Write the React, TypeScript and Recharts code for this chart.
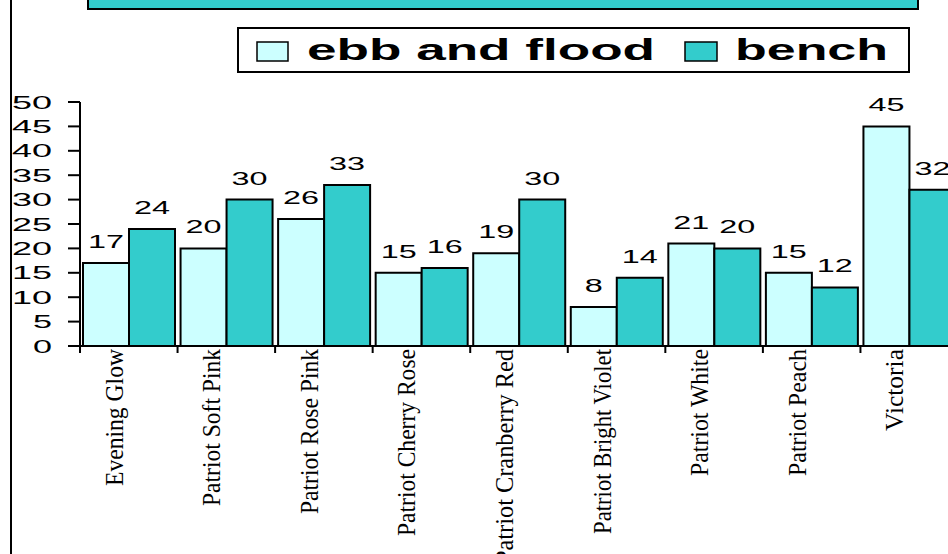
import React from "react";
import { BarChart, Bar, XAxis, YAxis, LabelList } from "recharts";

const categories = [
  "Evening Glow",
  "Patriot Soft Pink",
  "Patriot Rose Pink",
  "Patriot Cherry Rose",
  "Patriot Cranberry Red",
  "Patriot Bright Violet",
  "Patriot White",
  "Patriot Peach",
  "Victoria",
];
const ebbAndFlood = [17, 20, 26, 15, 19, 8, 21, 15, 45];
const bench = [24, 30, 33, 16, 30, 14, 20, 12, 32];
const yTicks = [0, 5, 10, 15, 20, 25, 30, 35, 40, 45, 50];
const seriesNames = ["ebb and flood", "bench"];

// visual lengths of the compressed category labels (style only)
const labelLengths: Record<string, number> = {
  "Evening Glow": 137,
  "Patriot Soft Pink": 157,
  "Patriot Rose Pink": 165,
  "Patriot Cherry Rose": 187,
  "Patriot Cranberry Red": 215,
  "Patriot Bright Violet": 185,
  "Patriot White": 127,
  "Patriot Peach": 127,
  Victoria: 82,
};

const data = categories.map((name, i) => ({
  name,
  ebb: ebbAndFlood[i],
  bench: bench[i],
}));

const CHART_W = 980;
const CHART_H = 554;
const MARGIN = { top: 102, right: 22, left: 0, bottom: 0 };
const Y_W = 80;
const BAND = (CHART_W - MARGIN.left - MARGIN.right - Y_W) / categories.length;

const LIGHT = "#CCFFFF";
const DARK = "#33CCCC";

const XTick = (props: any) => {
  const { x, y, payload } = props;
  const name = payload.value as string;
  return (
    <g>
      <line x1={x - BAND / 2} y1={y} x2={x - BAND / 2} y2={y + 7} stroke="#000" strokeWidth={2} />
      <text
        x={0}
        y={0}
        transform={`translate(${x - 6},${y + 3}) rotate(-90)`}
        textAnchor="end"
        fontFamily="'Liberation Serif', 'Times New Roman', serif"
        fontSize={25}
        fill="#000"
        textLength={labelLengths[name] || 120}
        lengthAdjust="spacingAndGlyphs"
      >
        {name}
      </text>
    </g>
  );
};

const YTick = (props: any) => {
  const { x, y, payload } = props;
  const s = String(payload.value);
  return (
    <text
      x={x - 14}
      y={y + 6.5}
      textAnchor="end"
      fontFamily="'Liberation Sans', Arial, sans-serif"
      fontSize={18}
      fill="#000"
      textLength={s.length > 1 ? 40 : 19}
      lengthAdjust="spacingAndGlyphs"
    >
      {s}
    </text>
  );
};

const BarLabel = (props: any) => {
  const { x, y, width, value } = props;
  const s = String(value);
  return (
    <text
      x={x + width / 2}
      y={y - 15}
      textAnchor="middle"
      fontFamily="'Liberation Sans', Arial, sans-serif"
      fontSize={18}
      fill="#000"
      textLength={s.length > 1 ? 36 : 18}
      lengthAdjust="spacingAndGlyphs"
    >
      {s}
    </text>
  );
};

export default function App() {
  return (
    <div
      style={{
        position: "absolute",
        left: 0,
        top: 0,
        width: 948,
        height: 554,
        overflow: "hidden",
        background: "#fff",
      }}
    >
      <BarChart
        width={CHART_W}
        height={CHART_H}
        data={data}
        margin={MARGIN}
        barCategoryGap={3}
        barGap={0}
      >
        <XAxis
          dataKey="name"
          interval={0}
          height={CHART_H - MARGIN.top - 244}
          tick={<XTick />}
          tickLine={false}
          tickSize={0}
          tickMargin={0}
          axisLine={{ stroke: "#000", strokeWidth: 2 }}
        />
        <YAxis
          domain={[0, 50]}
          ticks={yTicks}
          interval={0}
          width={Y_W}
          tick={<YTick />}
          tickSize={12}
          tickLine={{ stroke: "#000", strokeWidth: 2 }}
          axisLine={{ stroke: "#000", strokeWidth: 2 }}
        />
        <Bar dataKey="ebb" fill={LIGHT} stroke="#000" strokeWidth={2} isAnimationActive={false}>
          <LabelList dataKey="ebb" content={<BarLabel />} />
        </Bar>
        <Bar dataKey="bench" fill={DARK} stroke="#000" strokeWidth={2} isAnimationActive={false}>
          <LabelList dataKey="bench" content={<BarLabel />} />
        </Bar>
      </BarChart>
      <svg
        width={948}
        height={554}
        style={{ position: "absolute", left: 0, top: 0, pointerEvents: "none" }}
      >
        <line x1={11} y1={0} x2={11} y2={554} stroke="#000" strokeWidth={2} />
        <rect x={88} y={-20} width={830} height={29} fill={DARK} stroke="#000" strokeWidth={2} />
        <rect x={238} y={28} width={671} height={44} fill="#fff" stroke="#000" strokeWidth={2} />
        <rect x={257} y={42} width={31} height={19} fill={LIGHT} stroke="#000" strokeWidth={1.5} />
        <text
          x={307}
          y={60}
          fontFamily="'Liberation Sans', Arial, sans-serif"
          fontWeight="bold"
          fontSize={29}
          fill="#000"
          textLength={348}
          lengthAdjust="spacingAndGlyphs"
        >
          {seriesNames[0]}
        </text>
        <rect x={685} y={42} width={32} height={19} fill={DARK} stroke="#000" strokeWidth={1.5} />
        <text
          x={735}
          y={60}
          fontFamily="'Liberation Sans', Arial, sans-serif"
          fontWeight="bold"
          fontSize={29}
          fill="#000"
          textLength={153}
          lengthAdjust="spacingAndGlyphs"
        >
          {seriesNames[1]}
        </text>
      </svg>
    </div>
  );
}
